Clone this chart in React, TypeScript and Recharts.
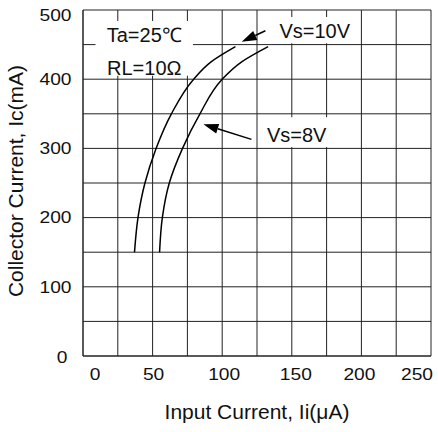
import {
  LineChart,
  Line,
  XAxis,
  YAxis,
  CartesianGrid,
  ReferenceArea,
  ReferenceLine,
} from 'recharts';

// grid every 25 µA / 50 mA, labels on every other line
const X_TICKS = [0, 25, 50, 75, 100, 125, 150, 175, 200, 225, 250];
const Y_TICKS = [0, 50, 100, 150, 200, 250, 300, 350, 400, 450, 500];

// Vs = 10V curve (Ii in µA, Ic in mA)
const VS10_II = [37, 39.5, 44.5, 52.5, 63.5, 79.5, 92, 109.5];
const VS10_IC = [150, 200, 250, 300, 350, 400, 425, 447];

// Vs = 8V curve
const VS8_II = [55, 57, 62, 71.5, 84, 100, 114, 133];
const VS8_IC = [150, 200, 250, 300, 350, 400, 425, 447];

const FONT = '"Liberation Sans", Arial, Helvetica, sans-serif';

const toPoints = (ii: number[], ic: number[]) => ii.map((x, i) => ({ ii: x, ic: ic[i] }));

const vs10 = toPoints(VS10_II, VS10_IC);
const vs8 = toPoints(VS8_II, VS8_IC);

// the original print nudges the outer labels inward
const X_NUDGE: Record<number, number> = { 0: 12, 50: 1, 100: 2, 150: 4, 200: -2, 250: -14 };

function XTick(props: any) {
  const { x, y, payload } = props;
  const v = payload.value;
  if (v % 50 !== 0) return <g />;
  return (
    <g transform={`translate(${x + (X_NUDGE[v] ?? 0)},${y + 23.5}) scale(1.2,1)`}>
      <text textAnchor="middle" fontSize={16} fill="#111" fontFamily={FONT}>
        {v}
      </text>
    </g>
  );
}

function YTick(props: any) {
  const { x, y, payload } = props;
  const v = payload.value;
  if (v % 100 !== 0) return <g />;
  const dx = v === 0 ? -4 : 0;
  const dy = v === 500 ? 5.5 : v === 0 ? 1 : 0;
  return (
    <g transform={`translate(${x - 11.5 + dx},${y + 5.7 + dy}) scale(1.2,1)`}>
      <text textAnchor="end" fontSize={16} fill="#111" fontFamily={FONT}>
        {v}
      </text>
    </g>
  );
}

function Arrow(props: any) {
  const { x1, y1, x2, y2 } = props;
  const ang = Math.atan2(y2 - y1, x2 - x1);
  const len = 15;
  const half = 5;
  const bx = x2 - len * Math.cos(ang);
  const by = y2 - len * Math.sin(ang);
  const px = -Math.sin(ang) * half;
  const py = Math.cos(ang) * half;
  return (
    <g>
      <line x1={x1} y1={y1} x2={bx} y2={by} stroke="#000" strokeWidth={1.5} />
      <polygon points={`${x2},${y2} ${bx + px},${by + py} ${bx - px},${by - py}`} fill="#000" />
    </g>
  );
}

const boxText = (lines: string[], baselines: number[]) => (p: any) => {
  const vb = p.viewBox;
  const cx = vb.x + vb.width / 2;
  return (
    <g>
      {lines.map((t, i) => (
        <text
          key={t}
          x={cx}
          y={vb.y + baselines[i]}
          textAnchor="middle"
          fontSize={20}
          fill="#111"
          fontFamily={FONT}
        >
          {t}
        </text>
      ))}
    </g>
  );
};

const yTitle = (p: any) => {
  const vb = p.viewBox;
  const cy = vb.y + vb.height / 2 - 2;
  return (
    <text
      x={23}
      y={cy}
      transform={`rotate(-90, 23, ${cy})`}
      textAnchor="middle"
      fontSize={21}
      fill="#111"
      fontFamily={FONT}
    >
      Collector Current, Ic(mA)
    </text>
  );
};

export default function App() {
  return (
    <div style={{ position: 'absolute', left: 0, top: 0, background: '#fff' }}>
      <LineChart width={438} height={432} margin={{ top: 10, right: 7, left: 0, bottom: 0 }}>
        <CartesianGrid stroke="#222" strokeWidth={1} />
        <XAxis
          dataKey="ii"
          type="number"
          domain={[0, 250]}
          ticks={X_TICKS}
          interval={0}
          height={76}
          tickSize={0}
          tickMargin={0}
          tickLine={false}
          axisLine={{ stroke: '#222' }}
          tick={XTick}
          label={{
            value: 'Input Current, Ii(μA)',
            position: 'insideBottom',
            offset: 13,
            fontSize: 21,
            fill: '#111',
            fontFamily: FONT,
          }}
        />
        <YAxis
          dataKey="ic"
          type="number"
          domain={[0, 500]}
          ticks={Y_TICKS}
          interval={0}
          width={83}
          tickSize={0}
          tickMargin={0}
          tickLine={false}
          axisLine={{ stroke: '#222' }}
          tick={YTick}
          label={{ content: yTitle }}
        />
        <ReferenceArea
          x1={9}
          x2={79}
          y1={405}
          y2={484}
          fill="#fff"
          fillOpacity={1}
          stroke="none"
          label={boxText(['Ta=25℃', 'RL=10Ω'], [21, 53.5])}
        />
        <ReferenceArea
          x1={136}
          x2={197}
          y1={452}
          y2={490}
          fill="#fff"
          fillOpacity={1}
          stroke="none"
          label={boxText(['Vs=10V'], [21.3])}
        />
        <ReferenceArea
          x1={127}
          x2={180}
          y1={302}
          y2={345}
          fill="#fff"
          fillOpacity={1}
          stroke="none"
          label={boxText(['Vs=8V'], [25])}
        />
        <ReferenceLine
          segment={[
            { x: 131, y: 470 },
            { x: 114, y: 454 },
          ]}
          shape={Arrow}
        />
        <ReferenceLine
          segment={[
            { x: 121, y: 313 },
            { x: 86.5, y: 335 },
          ]}
          shape={Arrow}
        />
        <Line
          data={vs10}
          dataKey="ic"
          type="monotoneY"
          stroke="#000"
          strokeWidth={1.5}
          dot={false}
          isAnimationActive={false}
        />
        <Line
          data={vs8}
          dataKey="ic"
          type="monotoneY"
          stroke="#000"
          strokeWidth={1.5}
          dot={false}
          isAnimationActive={false}
        />
      </LineChart>
    </div>
  );
}
